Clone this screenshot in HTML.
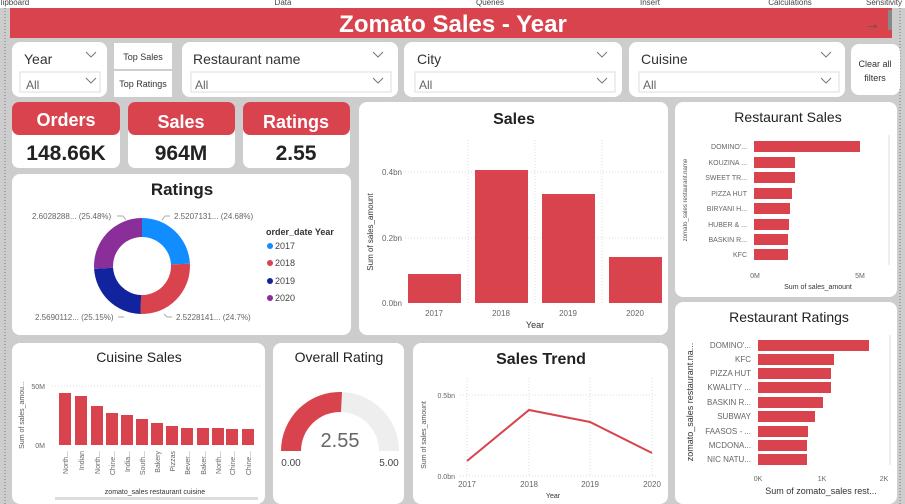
<!DOCTYPE html><html><head><style>body{margin:0;width:905px;height:504px;overflow:hidden;background:#d0d0d0}svg{display:block;font-family:"Liberation Sans",sans-serif}</style></head><body>
<svg width="905" height="504" viewBox="0 0 905 504">
<rect width="905" height="504" fill="#cdcdcd"/>
<rect width="905" height="8" fill="#fff"/>
<g font-size="8" fill="#444" text-anchor="middle"><text x="15" y="5">lipboard</text><text x="283" y="5">Data</text><text x="490" y="5">Queries</text><text x="650" y="5">Insert</text><text x="790" y="5">Calculations</text><text x="884" y="5">Sensitivity</text></g>
<line x1="5" y1="8" x2="5" y2="504" stroke="#777" stroke-dasharray="1,2"/>
<line x1="900" y1="8" x2="900" y2="504" stroke="#777" stroke-dasharray="1,2"/>
<rect x="10" y="8" width="882" height="30" fill="#d9434e"/>
<text x="453" y="32" font-size="24" font-weight="bold" fill="#fff" text-anchor="middle">Zomato Sales - Year</text>
<text x="872" y="29" font-size="16" fill="#555" text-anchor="middle">→</text>
<rect x="888" y="10" width="4" height="20" fill="#888"/>
<g fill="#fff">
<rect x="12" y="42" width="95" height="55" rx="8"/>
<rect x="114" y="43" width="58" height="26"/><rect x="114" y="71" width="58" height="26"/>
<rect x="182" y="42" width="216" height="55" rx="8"/>
<rect x="404" y="42" width="218" height="55" rx="8"/>
<rect x="629" y="42" width="216" height="55" rx="8"/>
<rect x="851" y="44" width="49" height="51" rx="8"/>
<rect x="12" y="102" width="108" height="66" rx="7"/><rect x="128" y="102" width="107" height="66" rx="7"/><rect x="243" y="102" width="107" height="66" rx="7"/>
<rect x="359" y="102" width="309" height="233" rx="8"/>
<rect x="675" y="102" width="222" height="195" rx="8"/>
<rect x="675" y="302" width="222" height="202" rx="8"/>
<rect x="12" y="174" width="339" height="161" rx="8"/>
<rect x="12" y="343" width="253" height="161" rx="8"/>
<rect x="273" y="343" width="131" height="161" rx="8"/>
<rect x="413" y="343" width="255" height="161" rx="8"/>
</g>
<g font-size="14" fill="#333">
<text x="24" y="64">Year</text><text x="193" y="64">Restaurant name</text><text x="417" y="64">City</text><text x="641" y="64">Cuisine</text></g>
<g font-size="12" fill="#666"><text x="26" y="89">All</text><text x="195" y="89">All</text><text x="419" y="89">All</text><text x="643" y="89">All</text></g>
<g fill="none" stroke="#777" stroke-width="1"><path d="M86 52l5 5 5-5M86 78l5 5 5-5M373 52l5 5 5-5M373 78l5 5 5-5M597 52l5 5 5-5M597 78l5 5 5-5M821 52l5 5 5-5M821 78l5 5 5-5"/></g>
<g stroke="#ddd" fill="none"><rect x="20" y="72" width="80" height="20"/><rect x="191" y="72" width="200" height="20"/><rect x="415" y="72" width="200" height="20"/><rect x="639" y="72" width="200" height="20"/></g>
<g font-size="9" fill="#333" text-anchor="middle"><text x="143" y="60">Top Sales</text><text x="143" y="87">Top Ratings</text><text x="875" y="67">Clear all</text><text x="875" y="81">filters</text></g>
<g fill="#d9434e"><rect x="12" y="102" width="108" height="33" rx="7"/><rect x="128" y="102" width="107" height="33" rx="7"/><rect x="243" y="102" width="107" height="33" rx="7"/></g>
<g font-size="18" font-weight="bold" fill="#fff" text-anchor="middle"><text x="66" y="126">Orders</text><text x="181" y="128">Sales</text><text x="296" y="128">Ratings</text></g>
<g font-size="21" font-weight="bold" fill="#222" text-anchor="middle"><text x="66" y="160">148.66K</text><text x="181" y="160">964M</text><text x="296" y="160">2.55</text></g>
<!-- Sales chart -->
<text x="514" y="124" font-size="16" font-weight="bold" fill="#222" text-anchor="middle">Sales</text>
<g stroke="#ddd" stroke-dasharray="1,2"><line x1="405" y1="172" x2="665" y2="172"/><line x1="405" y1="238" x2="665" y2="238"/><line x1="468" y1="140" x2="468" y2="303"/><line x1="535" y1="140" x2="535" y2="303"/><line x1="602" y1="140" x2="602" y2="303"/></g>
<g fill="#d9434e"><rect x="408" y="274" width="53" height="29"/><rect x="475" y="170" width="53" height="133"/><rect x="542" y="194" width="53" height="109"/><rect x="609" y="257" width="53" height="46"/></g>
<g font-size="8" fill="#666" text-anchor="end"><text x="402" y="175">0.4bn</text><text x="402" y="241">0.2bn</text><text x="402" y="306">0.0bn</text></g>
<g font-size="8" fill="#666" text-anchor="middle"><text x="434" y="316">2017</text><text x="501" y="316">2018</text><text x="568" y="316">2019</text><text x="635" y="316">2020</text></g>
<text x="535" y="328" font-size="9" fill="#333" text-anchor="middle">Year</text>
<text transform="translate(373,232) rotate(-90)" font-size="8" fill="#333" text-anchor="middle">Sum of sales_amount</text>
<!-- Donut -->
<text x="182" y="195" font-size="17" font-weight="bold" fill="#222" text-anchor="middle">Ratings</text>
<g transform="translate(142,266)">
<path d="M0,-48A48,48 0 0 1 47.94,-2.4L28.96,-1.45A29,29 0 0 0 0,-29Z" fill="#118dff"/>
<path d="M47.94,-2.4A48,48 0 0 1 -1.5,48L-0.9,29A29,29 0 0 0 28.96,-1.45Z" fill="#d9434e"/>
<path d="M-1.5,48A48,48 0 0 1 -47.9,2.9L-28.9,1.75A29,29 0 0 0 -0.9,29Z" fill="#12239e"/>
<path d="M-47.9,2.9A48,48 0 0 1 0,-48L0,-29A29,29 0 0 0 -28.9,1.75Z" fill="#8a2e9a"/>
</g>
<g font-size="8" fill="#666"><text x="32" y="219">2.6028288... (25.48%)</text><text x="174" y="219">2.5207131... (24.68%)</text><text x="35" y="320">2.5690112... (25.15%)</text><text x="176" y="320">2.5228141... (24.7%)</text></g>
<g stroke="#aaa" fill="none"><path d="M117 216h6l3 4M170 216h-5l-3 4M118 317h6M172 317h-5l-3-3"/></g>
<text x="266" y="235" font-size="9" font-weight="bold" fill="#333">order_date Year</text>
<g font-size="9" fill="#444"><circle cx="270" cy="246" r="3" fill="#118dff"/><text x="275" y="249">2017</text><circle cx="270" cy="263" r="3" fill="#d9434e"/><text x="275" y="266">2018</text><circle cx="270" cy="281" r="3" fill="#12239e"/><text x="275" y="284">2019</text><circle cx="270" cy="298" r="3" fill="#8a2e9a"/><text x="275" y="301">2020</text></g>
<!-- Restaurant Sales -->
<text x="788" y="122" font-size="14" fill="#222" text-anchor="middle">Restaurant Sales</text>
<g fill="#d9434e"><rect x="754" y="141" width="106" height="11"/><rect x="754" y="157" width="41" height="11"/><rect x="754" y="172" width="41" height="11"/><rect x="754" y="188" width="38" height="11"/><rect x="754" y="203" width="36" height="11"/><rect x="754" y="219" width="35" height="11"/><rect x="754" y="234" width="34" height="11"/><rect x="754" y="249" width="34" height="11"/></g>
<g font-size="7" fill="#666" text-anchor="end"><text x="747" y="149">DOMINO'...</text><text x="747" y="165">KOUZINA ...</text><text x="747" y="180">SWEET TR...</text><text x="747" y="196">PIZZA HUT</text><text x="747" y="211">BIRYANI H...</text><text x="747" y="227">HUBER &amp; ...</text><text x="747" y="242">BASKIN R...</text><text x="747" y="257">KFC</text></g>
<g font-size="7" fill="#666" text-anchor="middle"><text x="755" y="278">0M</text><text x="860" y="278">5M</text></g>
<text x="818" y="289" font-size="7" fill="#333" text-anchor="middle">Sum of sales_amount</text>
<text transform="translate(687,200) rotate(-90)" font-size="6" fill="#555" text-anchor="middle">zomato_sales restaurant.name</text>
<rect x="888" y="135" width="2" height="130" fill="#eee"/>
<!-- Restaurant Ratings -->
<text x="789" y="322" font-size="14" fill="#222" text-anchor="middle">Restaurant Ratings</text>
<g fill="#d9434e"><rect x="758" y="340" width="111" height="11"/><rect x="758" y="354" width="76" height="11"/><rect x="758" y="368" width="73" height="11"/><rect x="758" y="382" width="73" height="11"/><rect x="758" y="397" width="65" height="11"/><rect x="758" y="411" width="57" height="11"/><rect x="758" y="426" width="50" height="11"/><rect x="758" y="440" width="49" height="11"/><rect x="758" y="454" width="49" height="11"/></g>
<g font-size="8" fill="#666" text-anchor="end"><text x="751" y="348">DOMINO'...</text><text x="751" y="362">KFC</text><text x="751" y="376">PIZZA HUT</text><text x="751" y="390">KWALITY ...</text><text x="751" y="405">BASKIN R...</text><text x="751" y="419">SUBWAY</text><text x="751" y="434">FAASOS - ...</text><text x="751" y="448">MCDONA...</text><text x="751" y="462">NIC NATU...</text></g>
<g font-size="7" fill="#666" text-anchor="middle"><text x="758" y="481">0K</text><text x="822" y="481">1K</text><text x="884" y="481">2K</text></g>
<text x="821" y="494" font-size="9" fill="#333" text-anchor="middle">Sum of zomato_sales rest...</text>
<text transform="translate(693,402) rotate(-90)" font-size="9" fill="#333" text-anchor="middle">zomato_sales restaurant.na...</text>
<rect x="889" y="335" width="2" height="130" fill="#eee"/>
<!-- Cuisine Sales -->
<text x="139" y="362" font-size="14" fill="#222" text-anchor="middle">Cuisine Sales</text>
<line x1="52" y1="386" x2="262" y2="386" stroke="#ddd" stroke-dasharray="1,2"/>
<g fill="#d9434e"><rect x="59" y="393" width="12" height="52"/><rect x="75" y="396" width="12" height="49"/><rect x="91" y="406" width="12" height="39"/><rect x="106" y="413" width="12" height="32"/><rect x="121" y="415" width="12" height="30"/><rect x="136" y="419" width="12" height="26"/><rect x="151" y="423" width="12" height="22"/><rect x="166" y="426" width="12" height="19"/><rect x="181" y="428" width="12" height="17"/><rect x="197" y="428" width="12" height="17"/><rect x="212" y="428" width="12" height="17"/><rect x="226" y="429" width="12" height="16"/><rect x="242" y="429" width="12" height="16"/></g>
<g font-size="7" fill="#666" text-anchor="end"><text x="45" y="389">50M</text><text x="45" y="448">0M</text></g>
<g font-size="7" fill="#666" text-anchor="end">
<text transform="translate(68,451) rotate(-90)">North...</text><text transform="translate(84,451) rotate(-90)">Indian</text><text transform="translate(100,451) rotate(-90)">North...</text><text transform="translate(115,451) rotate(-90)">Chine...</text><text transform="translate(130,451) rotate(-90)">India...</text><text transform="translate(145,451) rotate(-90)">South...</text><text transform="translate(160,451) rotate(-90)">Bakery</text><text transform="translate(175,451) rotate(-90)">Pizzas</text><text transform="translate(190,451) rotate(-90)">Bever...</text><text transform="translate(206,451) rotate(-90)">Baker...</text><text transform="translate(221,451) rotate(-90)">North...</text><text transform="translate(235,451) rotate(-90)">Chine...</text><text transform="translate(251,451) rotate(-90)">Chine...</text></g>
<text x="155" y="494" font-size="7" fill="#333" text-anchor="middle">zomato_sales restaurant cuisine</text>
<rect x="55" y="497" width="203" height="3" fill="#ddd"/>
<text transform="translate(24,415) rotate(-90)" font-size="7" fill="#555" text-anchor="middle">Sum of sales_amou...</text>
<!-- Gauge -->
<text x="339" y="362" font-size="14" fill="#222" text-anchor="middle">Overall Rating</text>
<path d="M281,451A59,59 0 0 1 399,451L379,451A39,39 0 0 0 301,451Z" fill="#eeeeee"/>
<path d="M281,451A59,59 0 0 1 342,392L341,412A39,39 0 0 0 301,451Z" fill="#d9434e"/>
<text x="340" y="447" font-size="20" fill="#666" text-anchor="middle">2.55</text>
<g font-size="10" fill="#444" text-anchor="middle"><text x="291" y="466">0.00</text><text x="389" y="466">5.00</text></g>
<!-- Sales Trend -->
<text x="541" y="364" font-size="16" font-weight="bold" fill="#222" text-anchor="middle">Sales Trend</text>
<g stroke="#ddd" stroke-dasharray="1,2"><line x1="460" y1="395" x2="658" y2="395"/><line x1="460" y1="476" x2="658" y2="476"/><line x1="467" y1="378" x2="467" y2="476"/><line x1="529" y1="378" x2="529" y2="476"/><line x1="590" y1="378" x2="590" y2="476"/><line x1="652" y1="378" x2="652" y2="476"/></g>
<polyline points="467,461 529,410 590,422 652,453" fill="none" stroke="#d9434e" stroke-width="2"/>
<g font-size="7" fill="#666" text-anchor="end"><text x="455" y="398">0.5bn</text><text x="455" y="479">0.0bn</text></g>
<g font-size="8" fill="#666" text-anchor="middle"><text x="467" y="487">2017</text><text x="529" y="487">2018</text><text x="590" y="487">2019</text><text x="652" y="487">2020</text></g>
<text x="553" y="498" font-size="7" fill="#333" text-anchor="middle">Year</text>
<text transform="translate(426,435) rotate(-90)" font-size="7" fill="#555" text-anchor="middle">Sum of sales_amount</text>
</svg></body></html>
